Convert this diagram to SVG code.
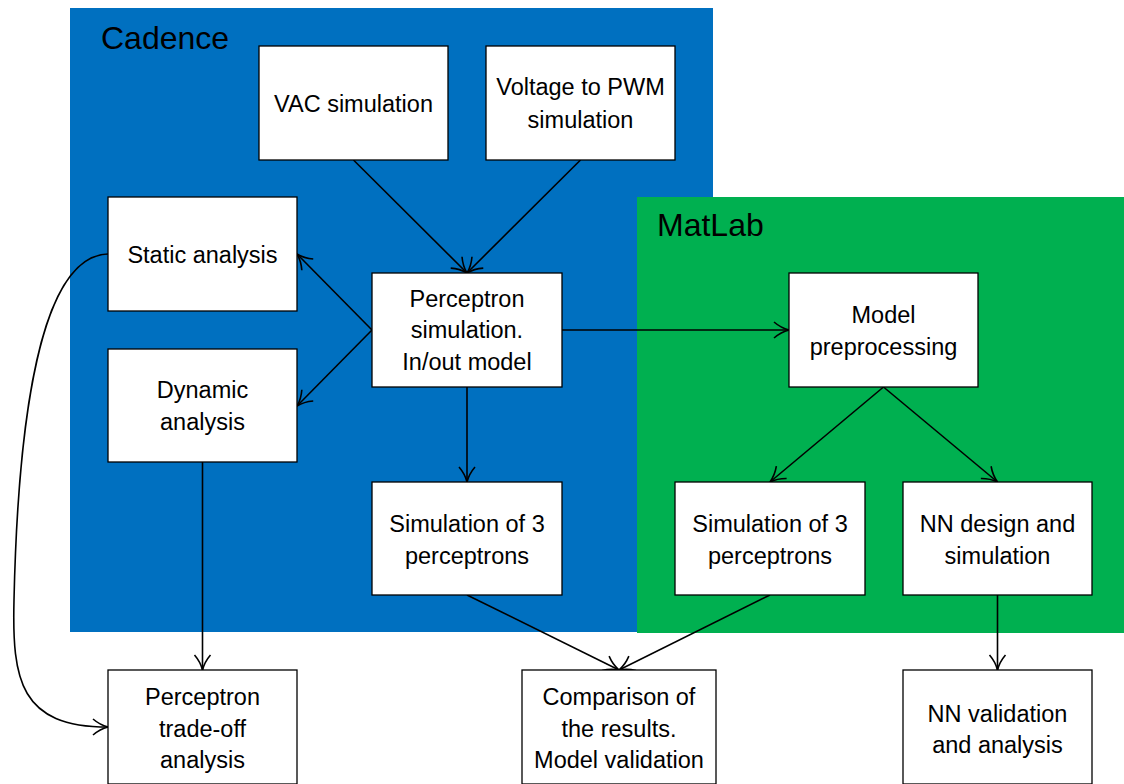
<svg xmlns="http://www.w3.org/2000/svg" width="1124" height="784" viewBox="0 0 1124 784">
  <style>
    .box { fill: #ffffff; stroke: #000000; stroke-width: 1.3; }
    .lbl { font-family: "Liberation Sans", Arial, sans-serif; font-size: 23.5px; fill: #000000; text-anchor: middle; }
    .title { font-family: "Liberation Sans", Arial, sans-serif; font-size: 32px; fill: #000000; }
    .edge { fill: none; stroke: #000000; stroke-width: 1.6; marker-end: url(#arrow); }
  </style>
  <defs>
    <marker id="arrow" markerUnits="userSpaceOnUse" viewBox="-18 -10 20 20" refX="0" refY="0" markerWidth="20" markerHeight="20" orient="auto" overflow="visible">
      <path d="M-15,-8 Q-8,-2 0,0 Q-8,2 -15,8" fill="none" stroke="#000000" stroke-width="1.6"/>
    </marker>
  </defs>

  <rect width="1124" height="784" fill="#ffffff"/>

  <!-- tool regions -->
  <g id="region-cadence">
    <rect x="70" y="8" width="643" height="624" fill="#0070C0"/>
    <text class="title" x="101" y="49">Cadence</text>
  </g>
  <g id="region-matlab">
    <rect x="637" y="197" width="487" height="436" fill="#00B050"/>
    <text class="title" x="657" y="236">MatLab</text>
  </g>

  <!-- connectors -->
  <g id="connectors">
    <line class="edge" x1="353.5" y1="160" x2="467" y2="273"/>
    <line class="edge" x1="580.5" y1="160" x2="467" y2="273"/>
    <line class="edge" x1="372" y1="330" x2="297" y2="254"/>
    <line class="edge" x1="372" y1="330" x2="297" y2="406"/>
    <line class="edge" x1="562" y1="330" x2="789" y2="330"/>
    <line class="edge" x1="467" y1="387" x2="467" y2="482"/>
    <line class="edge" x1="883.5" y1="387" x2="770" y2="482"/>
    <line class="edge" x1="883.5" y1="387" x2="997.5" y2="482"/>
    <line class="edge" x1="202.5" y1="462" x2="202.5" y2="670"/>
    <line class="edge" x1="467" y1="595" x2="619" y2="670"/>
    <line class="edge" x1="770" y1="595" x2="619" y2="670"/>
    <line class="edge" x1="997.5" y1="595" x2="997.5" y2="670"/>
    <path class="edge" d="M108,254 C40,256 18,420 14,600 C12,680 20,727 108,727"/>
  </g>

  <!-- nodes -->
  <g id="vac-simulation">
    <rect class="box" x="259" y="46" width="189" height="114"/>
    <text class="lbl" x="353.5" y="111.5">VAC simulation</text>
  </g>
  <g id="voltage-pwm">
    <rect class="box" x="486" y="46" width="189" height="114"/>
    <text class="lbl" x="580.5" y="95">Voltage to PWM</text>
    <text class="lbl" x="580.5" y="127.5">simulation</text>
  </g>
  <g id="static-analysis">
    <rect class="box" x="108" y="197" width="189" height="114"/>
    <text class="lbl" x="202.5" y="262.5">Static analysis</text>
  </g>
  <g id="dynamic-analysis">
    <rect class="box" x="108" y="349" width="189" height="113"/>
    <text class="lbl" x="202.5" y="398">Dynamic</text>
    <text class="lbl" x="202.5" y="430">analysis</text>
  </g>
  <g id="perceptron-simulation">
    <rect class="box" x="372" y="273" width="190" height="114"/>
    <text class="lbl" x="467" y="306.5">Perceptron</text>
    <text class="lbl" x="467" y="338">simulation.</text>
    <text class="lbl" x="467" y="370">In/out model</text>
  </g>
  <g id="sim-3-cadence">
    <rect class="box" x="372" y="482" width="190" height="113"/>
    <text class="lbl" x="467" y="531.5">Simulation of 3</text>
    <text class="lbl" x="467" y="563.5">perceptrons</text>
  </g>
  <g id="model-preprocessing">
    <rect class="box" x="789" y="273" width="189" height="114"/>
    <text class="lbl" x="883.5" y="322.5">Model</text>
    <text class="lbl" x="883.5" y="354.5">preprocessing</text>
  </g>
  <g id="sim-3-matlab">
    <rect class="box" x="675" y="482" width="190" height="113"/>
    <text class="lbl" x="770" y="531.5">Simulation of 3</text>
    <text class="lbl" x="770" y="563.5">perceptrons</text>
  </g>
  <g id="nn-design">
    <rect class="box" x="903" y="482" width="189" height="113"/>
    <text class="lbl" x="997.5" y="531.5">NN design and</text>
    <text class="lbl" x="997.5" y="563.5">simulation</text>
  </g>
  <g id="tradeoff-analysis">
    <rect class="box" x="108" y="670" width="189" height="114"/>
    <text class="lbl" x="202.5" y="705">Perceptron</text>
    <text class="lbl" x="202.5" y="736.5">trade-off</text>
    <text class="lbl" x="202.5" y="768">analysis</text>
  </g>
  <g id="comparison">
    <rect class="box" x="522" y="670" width="194" height="114"/>
    <text class="lbl" x="619" y="705">Comparison of</text>
    <text class="lbl" x="619" y="736.5">the results.</text>
    <text class="lbl" x="619" y="768">Model validation</text>
  </g>
  <g id="nn-validation">
    <rect class="box" x="903" y="670" width="189" height="114"/>
    <text class="lbl" x="997.5" y="721.5">NN validation</text>
    <text class="lbl" x="997.5" y="753">and analysis</text>
  </g>
</svg>
